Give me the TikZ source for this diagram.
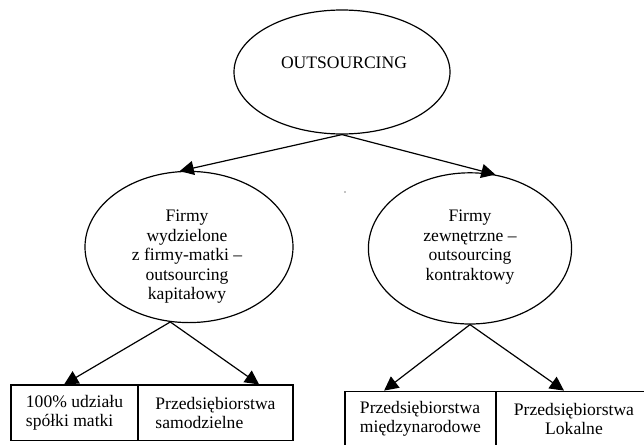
\documentclass[tikz,border=0pt]{standalone}
\usepackage{fontspec}
\setmainfont{Liberation Serif}
\usetikzlibrary{shapes.geometric,arrows.meta}

\begin{document}
\begin{tikzpicture}[line width=0.85pt,font=\fontsize{12.5}{13.9}\selectfont,
    >={Triangle[length=10pt,width=10pt]},
    oval/.style={shape=ellipse,draw=black,inner sep=0pt},
    cell/.style={shape=rectangle,draw=black,minimum height=1.39cm,inner sep=0pt},]
    \useasboundingbox (0,0) rectangle (16.1,11.1);
    \clip (0,0) rectangle (16.1,11.1);
    \node[oval,minimum width=5.4cm,minimum height=3.1cm] (O) at (8.55,9.3) {};
    \node[oval,minimum width=5.2cm,minimum height=3.78cm] (W) at (4.725,4.925) {};
    \node[oval,minimum width=5.08cm,minimum height=3.78cm] (Z) at (11.75,4.89) {};
    \node (OT) at (8.6,9.525) {OUTSOURCING};
    \node[align=center] (WT) at (4.675,4.68) {Firmy\\wydzielone\\z firmy-matki --\\outsourcing\\kapitałowy};
    \node[align=center] (ZT) at (11.75,4.925) {Firmy\\zewnętrzne --\\outsourcing\\kontraktowy};
    \node[cell,minimum width=3.175cm,align=left] (B1) at (1.8625,0.779) {100\% udziału\\spółki matki};
    \node[cell,minimum width=3.875cm,align=left] (B2) at (5.3875,0.779) {Przedsiębiorstwa\\samodzielne};
    \node[cell,minimum width=3.775cm,align=left] (B3) at (10.5125,0.625) {Przedsiębiorstwa\\międzynarodowe};
    \node[cell,minimum width=3.9cm,align=center] (B4) at (14.35,0.625) {Przedsiębiorstwa\\Lokalne};
    \fill (8.625,6.3) circle (0.016);
    \path [->](O.south) edge (W.97);
    \path [->](O.south) edge (Z.71);
    \path [->](W.256) edge ([xshift=-0.26cm]B1.north);
    \path [->](W.256) edge ([xshift=1.09cm]B2.north);
    \path [->](Z.south) edge ([xshift=-0.91cm]B3.north);
    \path [->](Z.south) edge ([xshift=-0.25cm]B4.north);
\end{tikzpicture}
\end{document}
